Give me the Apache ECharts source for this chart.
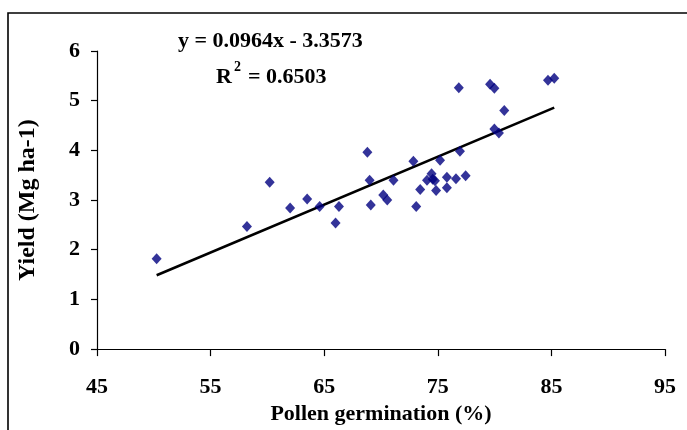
<!DOCTYPE html>
<html>
<head>
    <meta charset="utf-8">
    <title>Yield vs pollen germination</title>
    <script src="https://cdn.jsdelivr.net/npm/echarts@6/dist/echarts.min.js"></script>
    <style>
        body { margin: 0; background: #fff; }
    </style>
</head>
<body>
    <div id="main" style="width:687px;height:430px;"></div>
    <script type="text/javascript">
        // germination (%) and yield (Mg/ha)
        var germination = [50.25, 58.2, 60.2, 62.0, 63.5, 64.6, 66.0, 66.3, 68.8, 69.0, 69.1, 70.2, 70.55,
            71.1, 72.85, 73.1, 73.45, 74.05, 74.45, 74.55, 74.75, 74.85, 75.2, 75.8, 75.8, 76.6,
            76.85, 76.95, 77.45, 79.6, 79.98, 79.98, 80.38, 80.85, 84.7, 85.25];
        var yieldVals = [1.82, 2.47, 3.36, 2.84, 3.02, 2.87, 2.54, 2.87, 3.96, 3.40, 2.90, 3.10, 3.00,
            3.40, 3.78, 2.87, 3.21, 3.40, 3.53, 3.42, 3.39, 3.19, 3.80, 3.46, 3.25, 3.43,
            5.26, 3.98, 3.49, 5.33, 5.25, 4.43, 4.35, 4.80, 5.41, 5.45];
        // trendline ends
        var trendX = [50.25, 85.25];
        var trendY = [1.487, 4.861];
        var xTicks = [45, 55, 65, 75, 85, 95];

        var points = germination.map(function (g, i) { return [g, yieldVals[i]]; });
        var trend = trendX.map(function (x, i) { return [x, trendY[i]]; });

        var font = '"Liberation Serif", "Times New Roman", serif';
        var myChart = echarts.init(document.getElementById('main'));

        var option = {
            animation: false,
            grid: { left: 97, right: 22, top: 51, bottom: 80 },
            graphic: [
                {
                    // frame, right and bottom edges fall outside the picture
                    type: 'rect',
                    shape: { x: 8, y: 13, width: 700, height: 440 },
                    style: { fill: 'none', stroke: '#000', lineWidth: 1.6 }
                },
                {
                    type: 'text', x: 178, y: 41,
                    style: { text: 'y = 0.0964x - 3.3573', font: 'bold 22px ' + font, fill: '#000', verticalAlign: 'middle' }
                },
                {
                    type: 'text', x: 216, y: 77,
                    style: { text: 'R', font: 'bold 22px ' + font, fill: '#000', verticalAlign: 'middle' }
                },
                {
                    type: 'text', x: 234, y: 67,
                    style: { text: '2', font: 'bold 14px ' + font, fill: '#000', verticalAlign: 'middle' }
                },
                {
                    type: 'text', x: 248, y: 77,
                    style: { text: '= 0.6503', font: 'bold 22px ' + font, fill: '#000', verticalAlign: 'middle' }
                }
            ],
            xAxis: {
                type: 'value', min: 45, max: 95, interval: 10,
                name: 'Pollen germination (%)', nameLocation: 'middle', nameGap: 53,
                nameTextStyle: { fontFamily: font, fontWeight: 'bold', fontSize: 22, color: '#000' },
                axisLine: { onZero: false, lineStyle: { color: '#000', width: 1.2 } },
                axisTick: { show: true, length: 7, lineStyle: { color: '#000', width: 1.2 } },
                axisLabel: {
                    margin: 27, fontFamily: font, fontWeight: 'bold', fontSize: 22, color: '#000',
                    formatter: function (v) { return xTicks.indexOf(v) >= 0 ? String(v) : ''; }
                },
                splitLine: { show: false }
            },
            yAxis: {
                type: 'value', min: 0, max: 6, interval: 1,
                name: 'Yield (Mg ha-1)', nameLocation: 'middle', nameGap: 57,
                nameTextStyle: { fontFamily: font, fontWeight: 'bold', fontSize: 24, color: '#000' },
                axisLine: { show: true, lineStyle: { color: '#000', width: 1.2 } },
                axisTick: { show: true, length: 6, lineStyle: { color: '#000', width: 1.2 } },
                axisLabel: { margin: 17, fontFamily: font, fontWeight: 'bold', fontSize: 22, color: '#000' },
                splitLine: { show: false }
            },
            series: [
                {
                    type: 'line', data: trend, symbol: 'none',
                    lineStyle: { color: '#000', width: 2.6 }, z: 2
                },
                {
                    type: 'scatter', data: points, symbol: 'diamond', symbolSize: [10, 11],
                    itemStyle: { color: '#000080' }, z: 3
                }
            ]
        };

        myChart.setOption(option);
    </script>
</body>
</html>
